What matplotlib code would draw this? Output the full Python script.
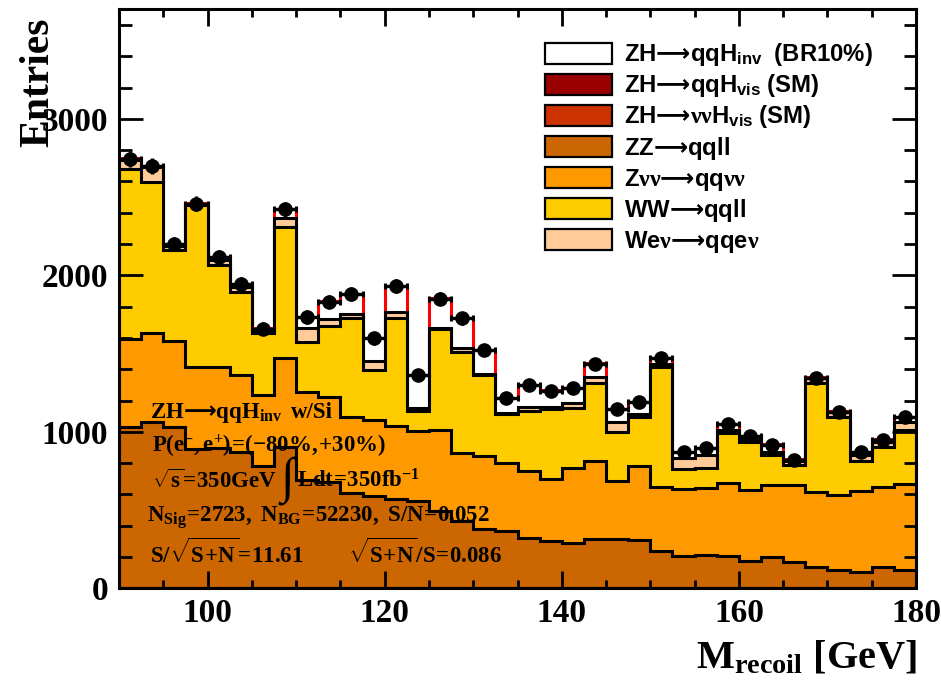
import numpy as np
import matplotlib
matplotlib.use("Agg")
import matplotlib.pyplot as plt
from matplotlib.patches import Rectangle
from matplotlib.ticker import MultipleLocator

# ---------------------------------------------------------------------------
# Recoil-mass histogram: 36 bins of 2.5 GeV between 90 and 180 GeV
# ---------------------------------------------------------------------------
bin_edges = np.arange(90.0, 180.01, 2.5)

zz_qqll = [1030, 1060, 1030, 890, 895, 870, 777, 900, 690, 680, 605, 590,
           570, 558, 490, 430, 375, 362, 320, 298, 285, 316, 313, 309,
           234, 202, 210, 207, 170, 200, 164, 137, 117, 104, 137, 115]
znn_qqnn = [562, 572, 549, 525, 520, 492, 457, 568, 566, 544, 491, 485,
            462, 442, 521, 432, 466, 436, 429, 398, 481, 493, 374, 468,
            415, 430, 429, 464, 454, 460, 496, 480, 475, 518, 508, 549]
ww_qqll = [1083, 964, 581, 1032, 649, 532, 394, 836, 319, 451, 628, 319,
           692, 128, 642, 645, 517, 315, 385, 447, 383, 504, 313, 315,
           766, 130, 127, 319, 312, 191, 127, 696, 504, 193, 259, 347]
wenu_qqenu = [60, 94, 25, 8, 32, 32, 17, 58, 85, 44, 27, 53,
              36, 21, 7, 25, 7, 7, 26, 17, 32, 34, 64, 21,
              15, 68, 85, 17, 14, 21, 22, 28, 32, 36, 32, 53]
zh_nnhvis = [1, 1, 1, 1, 1, 1, 1, 1, 1, 1, 1, 1,
             1, 1, 1, 1, 1, 1, 1, 1, 1, 1, 1, 1,
             1, 1, 1, 1, 1, 1, 1, 1, 1, 1, 1, 1]
zh_qqhvis = [1, 1, 1, 1, 1, 1, 1, 1, 1, 1, 1, 2,
             2, 2, 2, 2, 2, 1, 1, 1, 1, 1, 1, 1,
             1, 1, 1, 1, 1, 1, 1, 1, 1, 1, 1, 1]
zh_qqhinv = [10, 10, 15, 3, 19, 19, 15, 60, 74, 113, 130, 150,
             172, 213, 192, 193, 156, 94, 138, 104, 100, 88, 83, 78,
             42, 42, 46, 44, 22, 46, 13, 6, 2, 21, 14, 31]
data_counts = [2745, 2700, 2200, 2458, 2115, 1945, 1660, 2422, 1734, 1832, 1881, 1597,
               1932, 1362, 1852, 1725, 1521, 1214, 1298, 1264, 1281, 1435, 1147, 1191,
               1472, 872, 897, 1051, 972, 918, 822, 1347, 1130, 872, 950, 1095]

ARROW = r"\mathcal{⟶}"
legend_labels = [
    r"$\mathsf{ZH}" + ARROW + r"\mathsf{qqH_{inv}\ \ (BR10\%)}$",
    r"$\mathsf{ZH}" + ARROW + r"\mathsf{qqH_{vis}\ (SM)}$",
    r"$\mathsf{ZH}" + ARROW + r"\mathtt{\nu\nu}\mathsf{H_{vis}\ (SM)}$",
    r"$\mathsf{ZZ}" + ARROW + r"\mathsf{qqll}$",
    r"$\mathsf{Z}\mathtt{\nu\nu}" + ARROW + r"\mathsf{qq}\mathtt{\nu\nu}$",
    r"$\mathsf{WW}" + ARROW + r"\mathsf{qqll}$",
    r"$\mathsf{We}\mathtt{\nu}" + ARROW + r"\mathsf{qqe}\mathtt{\nu}$",
]
legend_colors = ["#FFFFFF", "#990000", "#CC3300", "#CC6600", "#FF9900", "#FFCC00", "#FFCC99"]

# ---------------------------------------------------------------------------
plt.rcParams.update({
    "font.family": ["Liberation Serif", "DejaVu Serif"],
    "font.weight": "bold",
    "mathtext.fontset": "custom",
    "mathtext.rm": "Liberation Serif:bold",
    "mathtext.bf": "Liberation Serif:bold",
    "mathtext.it": "Liberation Serif:bold:italic",
    "mathtext.sf": "Liberation Sans:bold",
    "mathtext.tt": "Liberation Serif",
    "mathtext.cal": "DejaVu Sans",
    "mathtext.default": "rm",
})

W, H = 941, 681
fig = plt.figure(figsize=(W / 100, H / 100), dpi=100)


def fx(px):
    return px / W


def fy(py):
    return 1 - py / H


ax = fig.add_axes([fx(119), fy(588.4), fx(916) - fx(119), fy(9.3) - fy(588.4)])

# stack, bottom to top
stack = [
    (zh_qqhvis, "#990000", "black"),
    (zh_nnhvis, "#CC3300", "black"),
    (zz_qqll, "#CC6600", "black"),
    (znn_qqnn, "#FF9900", "black"),
    (ww_qqll, "#FFCC00", "black"),
    (wenu_qqenu, "#FFCC99", "black"),
    (zh_qqhinv, "#FFFFFF", "red"),
]
cum = np.cumsum(np.array([np.asarray(s[0], float) for s in stack]), axis=0)
n = len(stack)
for k in reversed(range(n)):
    z = 1.0 + (n - k) * 0.1
    _, fc, ec = stack[k]
    ax.stairs(cum[k], bin_edges, baseline=0, fill=True, facecolor=fc,
              edgecolor="none", zorder=z)
    ax.stairs(cum[k], bin_edges, baseline=0, fill=False, color=ec,
              lw=2.2, zorder=z + 0.05)

# pseudo-data points
centers = 0.5 * (bin_edges[:-1] + bin_edges[1:])
data = np.asarray(data_counts, float)
half_w = 0.5 * np.diff(bin_edges)
ax.errorbar(centers, data, xerr=half_w, fmt="none", ecolor="black",
            elinewidth=2.4, capsize=2.5, capthick=2.2, zorder=5)
ax.errorbar(centers, data, yerr=np.sqrt(data), fmt="o", color="black",
            ms=9.5, elinewidth=2.4, capsize=0, zorder=5)

# axes cosmetics
ax.set_xlim(90, 180)
ax.set_ylim(0, 3700)
ax.xaxis.set_major_locator(MultipleLocator(20))
ax.xaxis.set_minor_locator(MultipleLocator(5))
ax.yaxis.set_major_locator(MultipleLocator(1000))
ax.yaxis.set_minor_locator(MultipleLocator(200))
ax.tick_params(which="both", direction="in", top=True, right=True, width=2.0,
               labelsize=24)
ax.tick_params(axis="x", which="major", length=12.5, pad=7)
ax.tick_params(axis="x", which="minor", length=6)
ax.tick_params(axis="y", which="major", length=17, pad=8)
ax.tick_params(axis="y", which="minor", length=9)
for sp in ax.spines.values():
    sp.set_linewidth(2.2)
    sp.set_zorder(10)

# axis titles
fig.text(fx(917), fy(668), r"$\mathrm{M_{recoil}\ [GeV]}$", ha="right",
         va="baseline", fontsize=29)
fig.text(fx(38), fy(18), "Entries", rotation=90, ha="center", va="top",
         fontsize=30, fontweight="bold")

# legend
for i, (lab, col) in enumerate(zip(legend_labels, legend_colors)):
    yc = 53.3 + i * 31.1
    fig.add_artist(Rectangle((fx(545), fy(yc + 10.5)), fx(612) - fx(545),
                             fy(yc - 10.5) - fy(yc + 10.5),
                             transform=fig.transFigure, facecolor=col,
                             edgecolor="black", lw=1.6, zorder=20))
    fig.text(fx(624), fy(yc + 8), lab, ha="left", va="baseline",
             fontsize=17.2, zorder=21)

# analysis summary
ts = 16.5
EQ = r"\!=\!"
fig.text(fx(150), fy(418), r"$\mathrm{ZH}" + ARROW + r"\mathrm{qqH_{inv}}$",
         fontsize=ts, va="baseline", zorder=20)
fig.text(fx(291), fy(418), "w/Si", fontsize=ts, va="baseline", zorder=20)
fig.text(fx(152), fy(452),
         r"$\mathrm{P(e^{-},e^{+})" + EQ + r"(-80\%,\!\!+\!30\%)}$",
         fontsize=ts, va="baseline", zorder=20)
fig.text(fx(152), fy(488), r"$\sqrt{\mathrm{s}}" + EQ + r"\mathrm{350GeV}$",
         fontsize=ts, va="baseline", zorder=20)
fig.text(fx(287), fy(482), "\u222b", fontsize=36, fontweight="normal",
         ha="center", va="center", zorder=20)
fig.text(fx(297), fy(488), r"$\mathrm{Ldt" + EQ + r"350fb^{-1}}$",
         fontsize=ts, va="baseline", zorder=20)
fig.text(fx(147), fy(522),
         r"$\mathrm{N_{Sig}" + EQ + r"2723,\ N_{BG}" + EQ + r"52230,\ S/N" + EQ + r"0.052}$",
         fontsize=ts, va="baseline", zorder=20)
fig.text(fx(150), fy(563), r"$\mathrm{S/\sqrt{S\!+\!N}" + EQ + r"11.61}$",
         fontsize=ts, va="baseline", zorder=20)
fig.text(fx(348), fy(563), r"$\mathrm{\sqrt{S\!+\!N}/S" + EQ + r"0.086}$",
         fontsize=ts, va="baseline", zorder=20)

fig.savefig("out.png", dpi=100)
